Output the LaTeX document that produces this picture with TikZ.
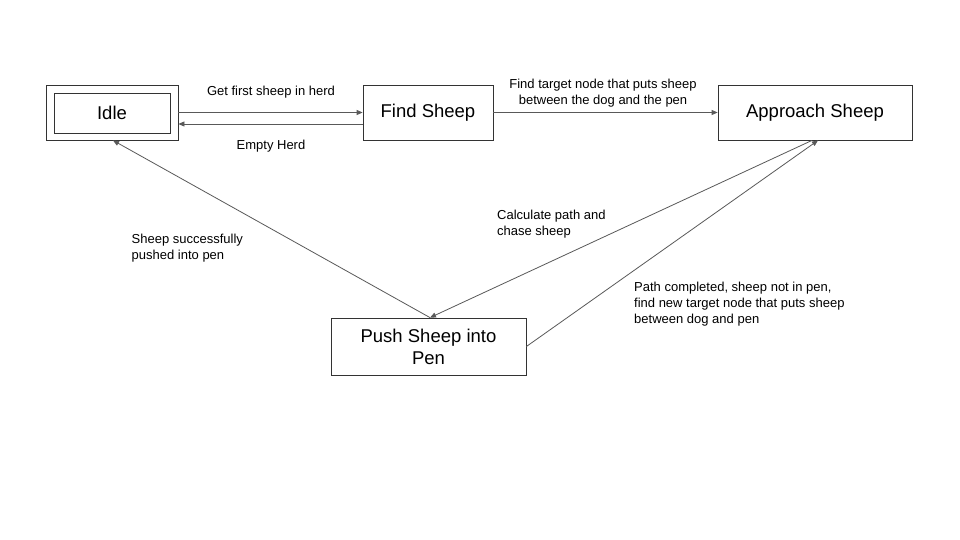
\documentclass[tikz,border=0pt]{standalone}
\usepackage{fontspec}
\setmainfont{Liberation Sans}
\usetikzlibrary{calc}
\usetikzlibrary{arrows.meta}

\begin{document}
\begin{tikzpicture}[x=1pt,y=-1pt]
\definecolor{mycolor000000}{rgb}{0,0,0}
\definecolor{mycolor333333}{rgb}{0.2,0.2,0.2}
\definecolor{mycolor595959}{rgb}{0.35,0.35,0.35}
\definecolor{mycolorFFFFFF}{rgb}{1,1,1}
\tikzset{
  state/.style={draw=mycolor333333,line width=0.8pt,inner sep=0.0,text=mycolor000000,align=center,font=\fontsize{18.5}{22}\selectfont},
  tag/.style={text=mycolor000000,inner sep=0.0,font=\fontsize{13}{16}\selectfont},
  link/.style={draw=mycolor595959,line width=0.8pt,-{Triangle[length=6pt,width=5pt]}}
}
\useasboundingbox [fill=mycolorFFFFFF] (0,0) rectangle (960,540);
\begin{scope}
% states
\node (idleout) [state,minimum width=132,minimum height=55] at (112,112.5) {};
\node (idle) [state,minimum width=116,minimum height=40] at (112,113) {Idle};
\node (find) [state,minimum width=130,minimum height=55] at (428,112.5) {Find Sheep};
\node (approach) [state,minimum width=194,minimum height=55] at (815,112.5) {Approach Sheep};
\node (push) [state,minimum width=195,minimum height=57] at (428.5,346.5) {Push Sheep into\\Pen};
\end{scope}
\begin{scope}
% labels
\node (tagfirst) [tag] at (271,92) {Get first sheep in herd};
\node (tagempty) [tag] at (271,146.5) {Empty Herd};
\node (tagtarget) [tag,align=center] at (603,93) {Find target node that puts sheep\\between the dog and the pen};
\node (tagchase) [tag,align=left,anchor=west] at (497,224.5) {Calculate path and\\chase sheep};
\node (tagretry) [tag,align=left,anchor=west] at (634,304) {Path completed, sheep not in pen,\\find new target node that puts sheep\\between dog and pen};
\node (tagdone) [tag,align=left,anchor=west] at (131.5,248) {Sheep successfully\\pushed into pen};
\end{scope}
\begin{scope}
% transitions
\draw [link] (idleout.east) -- (find.west |- idleout.east);
\draw [link] ([yshift=-11.5pt]find.west) -- ([yshift=-11.5pt]idleout.east);
\draw [link] (find.east) -- (approach.west);
\draw [link] ([xshift=-3pt]approach.south) -- ([xshift=1.5pt]push.north);
\draw [link] (push.east) -- ([xshift=3pt]approach.south);
\draw [link] ([xshift=1.5pt]push.north) -- ([xshift=1pt]idleout.south);
\end{scope}
\end{tikzpicture}
\end{document}
